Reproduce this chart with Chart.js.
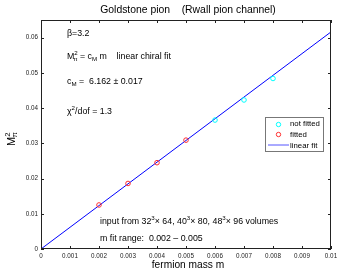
<!DOCTYPE html>
<html>
<head>
<meta charset="utf-8">
<script src="https://cdn.jsdelivr.net/npm/chart.js@4"></script>
<style>
  html, body { margin: 0; padding: 0; background: #fff; }
  canvas { display: block; }
</style>
</head>
<body>
<canvas id="chart" width="342" height="273"></canvas>
<script>
// values
const massFitted = [0.002, 0.003, 0.004, 0.005];
const m2Fitted = [0.0125, 0.0186, 0.0245, 0.0309];
const massNotFitted = [0.006, 0.007, 0.008];
const m2NotFitted = [0.0366, 0.0423, 0.0484];
const fitSlope = 6.162;
const fitMass = [0, 0.01];
const xTicks = [0, 0.001, 0.002, 0.003, 0.004, 0.005, 0.006, 0.007, 0.008, 0.009, 0.01];
const yTicks = [0, 0.01, 0.02, 0.03, 0.04, 0.05, 0.06];

const FONT = '"Liberation Sans", Arial, sans-serif';

function pts(xs, ys) {
    return xs.map((x, i) => ({ x: x, y: ys[i] }));
}

// draws text made of pieces, some raised (sup) or lowered (sub)
function richText(ctx, x, y, parts, size) {
    let cx = x;
    parts.forEach(p => {
        let fs = size, dy = 0;
        if (p.s === 'sup') { fs = size * 0.7; dy = -size * 0.4; }
        if (p.s === 'sub') { fs = size * 0.7; dy = size * 0.3; }
        ctx.font = fs + 'px ' + FONT;
        ctx.fillText(p.t, cx, y + dy);
        cx += ctx.measureText(p.t).width;
        if (p.back) cx -= p.back;
    });
}

const decorPlugin = {
    id: 'decor',
    afterDraw(chart) {
        const ctx = chart.ctx;
        const a = chart.chartArea;
        const xs = chart.scales.x, ys = chart.scales.y;
        ctx.save();
        // box + inward ticks on all sides
        ctx.strokeStyle = '#222';
        ctx.lineWidth = 1;
        ctx.strokeRect(a.left + 0.5, a.top + 0.5, a.right - a.left - 1, a.bottom - a.top - 1);
        ctx.beginPath();
        xTicks.forEach(v => {
            const px = Math.round(xs.getPixelForValue(v)) + 0.5;
            ctx.moveTo(px, a.bottom); ctx.lineTo(px, a.bottom - 3);
            ctx.moveTo(px, a.top); ctx.lineTo(px, a.top + 3);
        });
        yTicks.forEach(v => {
            const py = Math.round(ys.getPixelForValue(v)) + 0.5;
            ctx.moveTo(a.left, py); ctx.lineTo(a.left + 3, py);
            ctx.moveTo(a.right, py); ctx.lineTo(a.right - 3, py);
        });
        ctx.stroke();

        ctx.fillStyle = '#000';
        ctx.textBaseline = 'middle';
        ctx.textAlign = 'left';

        // title
        ctx.font = '10.4px ' + FONT;
        ctx.textAlign = 'center';
        ctx.fillText('Goldstone pion    (Rwall pion channel)', 188, 10);
        // x title
        ctx.font = '10.2px ' + FONT;
        ctx.fillText('fermion mass m', 188, 265);
        // y title (rotated)
        ctx.save();
        ctx.translate(12, 137);
        ctx.rotate(-Math.PI / 2);
        ctx.textAlign = 'left';
        richText(ctx, -9, 0, [{ t: 'M' }, { t: '2', s: 'sup', back: 5 }, { t: 'π', s: 'sub' }], 11);
        ctx.restore();

        // annotations
        ctx.textAlign = 'left';
        const fs = 8.8;
        richText(ctx, 67, 34, [{ t: 'β=3.2' }], fs);
        richText(ctx, 67, 57, [{ t: 'M' }, { t: '2', s: 'sup', back: 4.5 }, { t: 'π', s: 'sub' }, { t: ' = c' }, { t: 'M', s: 'sub' }, { t: ' m    linear chiral fit' }], fs);
        richText(ctx, 67, 82, [{ t: 'c' }, { t: 'M', s: 'sub' }, { t: ' =  6.162 ± 0.017' }], fs);
        richText(ctx, 67, 112, [{ t: 'χ' }, { t: '2', s: 'sup' }, { t: '/dof = 1.3' }], fs);
        richText(ctx, 100, 222, [{ t: 'input from 32' }, { t: '3', s: 'sup' }, { t: '× 64, 40' }, { t: '3', s: 'sup' }, { t: '× 80, 48' }, { t: '3', s: 'sup' }, { t: '× 96 volumes' }], fs);
        richText(ctx, 100, 239, [{ t: 'm fit range:  0.002 – 0.005' }], fs);

        // legend box
        ctx.fillStyle = '#fff';
        ctx.fillRect(265, 117, 59, 35);
        ctx.strokeStyle = '#777';
        ctx.strokeRect(265.5, 117.5, 58, 34);
        ctx.lineWidth = 1;
        ctx.strokeStyle = '#00ffff';
        ctx.beginPath(); ctx.arc(278.5, 124.5, 2.2, 0, 2 * Math.PI); ctx.stroke();
        ctx.strokeStyle = '#ff3030';
        ctx.beginPath(); ctx.arc(278.5, 134.5, 2.2, 0, 2 * Math.PI); ctx.stroke();
        ctx.strokeStyle = '#5555ff';
        ctx.beginPath(); ctx.moveTo(268, 145); ctx.lineTo(289, 145); ctx.stroke();
        ctx.fillStyle = '#000';
        ctx.font = '7.8px ' + FONT;
        ctx.fillText('not fitted', 290, 124);
        ctx.fillText('fitted', 290, 134.5);
        ctx.fillText('linear fit', 290, 145.5);
        ctx.restore();
    }
};

const tickFmt = v => String(Math.round(v * 1000) / 1000);

new Chart(document.getElementById('chart'), {
    type: 'scatter',
    data: {
        datasets: [
            {
                label: 'linear fit',
                type: 'line',
                data: pts(fitMass, fitMass.map(m => fitSlope * m)),
                borderColor: '#0000ff',
                borderWidth: 1,
                pointRadius: 0,
                fill: false,
                order: 3
            },
            {
                label: 'not fitted',
                data: pts(massNotFitted, m2NotFitted),
                borderColor: '#00ffff',
                backgroundColor: 'rgba(0,0,0,0)',
                borderWidth: 1,
                pointRadius: 2.3,
                order: 1
            },
            {
                label: 'fitted',
                data: pts(massFitted, m2Fitted),
                borderColor: '#ff3030',
                backgroundColor: 'rgba(0,0,0,0)',
                borderWidth: 1,
                pointRadius: 2.3,
                order: 1
            }
        ]
    },
    options: {
        responsive: false,
        animation: false,
        layout: { padding: { left: 0, right: 11, top: 20, bottom: 0 } },
        plugins: { legend: { display: false }, title: { display: false }, tooltip: { enabled: false } },
        scales: {
            x: {
                type: 'linear',
                min: 0,
                max: 0.01,
                afterBuildTicks: s => { s.ticks = xTicks.map(v => ({ value: v })); },
                afterFit: s => { s.height = 24; },
                grid: { display: false, drawTicks: false },
                border: { display: false },
                ticks: { callback: tickFmt, color: '#222', font: { size: 6.3, family: FONT }, padding: 3, maxRotation: 0, autoSkip: false }
            },
            y: {
                type: 'linear',
                min: 0,
                max: 0.065,
                afterBuildTicks: s => { s.ticks = yTicks.map(v => ({ value: v })); },
                afterFit: s => { s.width = 41; },
                grid: { display: false, drawTicks: false },
                border: { display: false },
                ticks: { callback: tickFmt, color: '#222', font: { size: 6.3, family: FONT }, padding: 3 }
            }
        }
    },
    plugins: [decorPlugin]
});
</script>
</body>
</html>
